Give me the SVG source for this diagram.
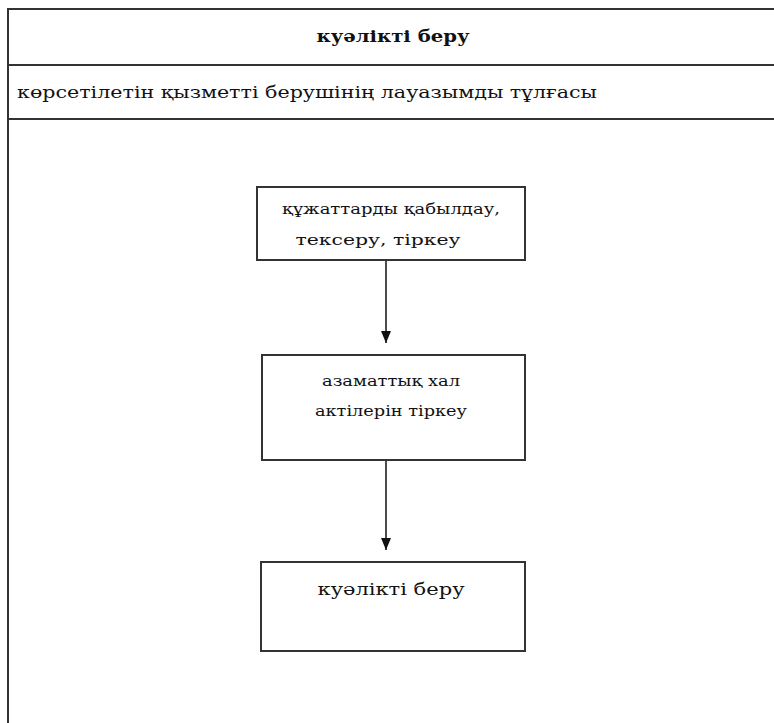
<svg xmlns="http://www.w3.org/2000/svg" width="774" height="723" viewBox="0 0 774 723">
<style>
.frame{fill:none;stroke:#333;stroke-width:2}
.box{fill:#fff;stroke:#333;stroke-width:2}
.t{font-family:"DejaVu Serif","Liberation Serif",serif;fill:#111}
.c{text-anchor:middle}
.edge{stroke:#111;stroke-width:1.5;fill:none}
</style>
<defs>
<marker id="ah" viewBox="0 0 12 10" refX="12" refY="5" markerWidth="12" markerHeight="10" markerUnits="userSpaceOnUse" orient="auto">
<path d="M0,0 L12,5 L0,10 z" fill="#111"/>
</marker>
</defs>
<rect width="774" height="723" fill="#fff"/>
<g id="frame">
<path class="frame" d="M8,730 V9 H780 M8,65 H780 M8,119 H780"/>
<text class="t c" x="393" y="42" font-size="16" font-weight="bold" textLength="153" lengthAdjust="spacingAndGlyphs">куәлікті беру</text>
<text class="t" x="17" y="98" font-size="16" textLength="580" lengthAdjust="spacingAndGlyphs">көрсетілетін қызметті берушінің лауазымды тұлғасы</text>
</g>
<g id="connectors">
<line class="edge" x1="386" y1="260" x2="386" y2="343" marker-end="url(#ah)"/>
<line class="edge" x1="386" y1="460" x2="386" y2="550" marker-end="url(#ah)"/>
</g>
<g id="node1">
<rect class="box" x="257" y="187" width="268" height="73"/>
<text class="t c" x="391" y="214" font-size="14" textLength="218" lengthAdjust="spacingAndGlyphs">құжаттарды қабылдау,</text>
<text class="t c" x="378" y="245" font-size="14" textLength="165" lengthAdjust="spacingAndGlyphs">тексеру, тіркеу</text>
</g>
<g id="node2">
<rect class="box" x="262" y="355" width="263" height="105"/>
<text class="t c" x="391" y="386" font-size="14" textLength="138" lengthAdjust="spacingAndGlyphs">азаматтық хал</text>
<text class="t c" x="391" y="416" font-size="14" textLength="152" lengthAdjust="spacingAndGlyphs">актілерін тіркеу</text>
</g>
<g id="node3">
<rect class="box" x="261" y="562" width="264" height="89"/>
<text class="t c" x="391" y="595" font-size="17" textLength="147" lengthAdjust="spacingAndGlyphs">куәлікті беру</text>
</g>
</svg>
